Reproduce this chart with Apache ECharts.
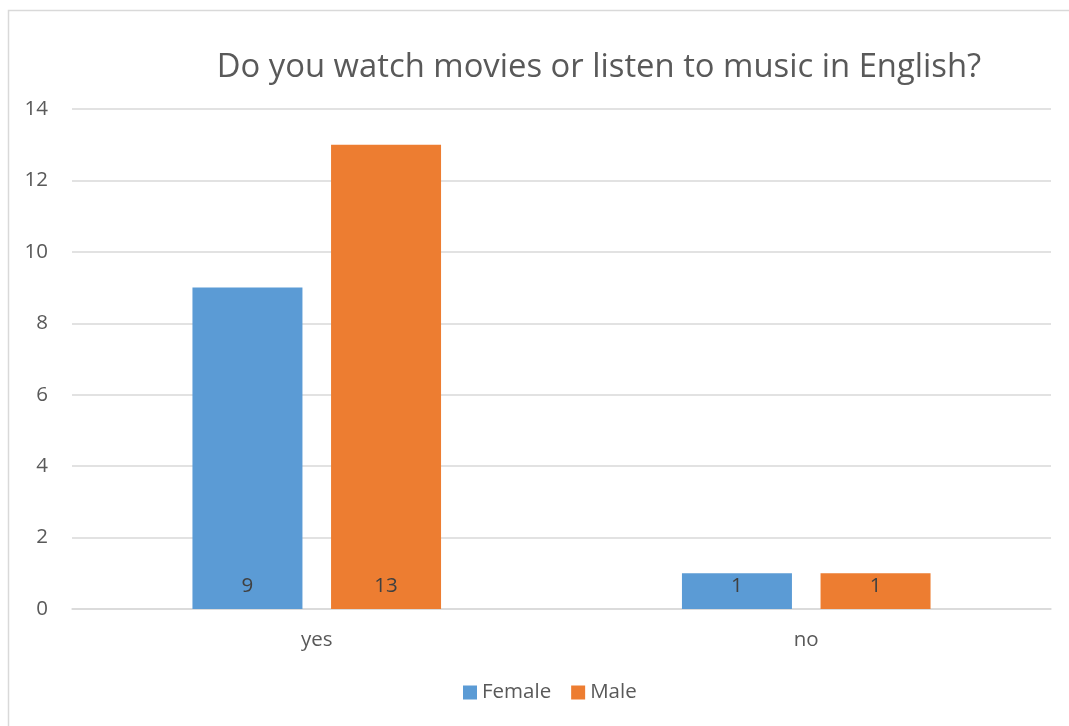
<!DOCTYPE html>
<html><head><meta charset="utf-8">
<script src="https://cdn.jsdelivr.net/npm/echarts@6/dist/echarts.min.js"></script>
<style>html,body{margin:0;padding:0;background:#fff}#c{width:1069px;height:726px}</style>
</head><body><div id="c"></div>
<script>
var titleText = 'Do you watch movies or listen to music in English?';
var categories = ['yes', 'no'];
var seriesNames = ['Female', 'Male'];
var femaleValues = [9, 1];
var maleValues = [13, 1];
var yTicks = [0, 2, 4, 6, 8, 10, 12, 14];

var font = "'Open Sans', 'Noto Sans', sans-serif";
var chart = echarts.init(document.getElementById('c'));
chart.setOption({
  animation: false,
  backgroundColor: '#fff',
  textStyle: { fontFamily: font },
  title: {
    text: titleText,
    left: 594, top: 46, textAlign: 'center',
    textStyle: { fontSize: 32.8, fontWeight: 'normal', color: '#595959', fontFamily: font }
  },
  graphic: [{
    type: 'rect', shape: { x: 8.5, y: 10.5, width: 1080, height: 740 },
    style: { fill: 'none', stroke: '#d9d9d9', lineWidth: 1.5 }, silent: true
  }],
  legend: {
    data: seriesNames, bottom: 18, left: 458,
    icon: 'rect', itemWidth: 14, itemHeight: 14, itemGap: 20, itemStyle: { borderWidth: 0 },
    textStyle: { fontSize: 20.5, color: '#595959', fontFamily: font }
  },
  grid: { left: 72, right: 18, top: 109, bottom: 117 },
  xAxis: {
    type: 'category', data: categories,
    axisLine: { lineStyle: { color: '#d9d9d9', width: 1.5 } },
    axisTick: { show: false },
    axisLabel: { fontSize: 20.5, color: '#595959', margin: 21, fontFamily: font }
  },
  yAxis: {
    type: 'value', min: yTicks[0], max: yTicks[yTicks.length - 1], interval: 2,
    axisLine: { show: false }, axisTick: { show: false },
    axisLabel: { fontSize: 20.5, color: '#595959', margin: 24, fontFamily: font },
    splitLine: { lineStyle: { color: '#d9d9d9', width: 1.5 } }
  },
  series: [
    { name: seriesNames[0], type: 'bar', data: femaleValues, barWidth: 110, barGap: '26%',
      itemStyle: { color: '#5B9BD5' },
      label: { show: true, position: 'insideBottom', distance: 12, fontSize: 20.5, color: '#404040', fontFamily: font } },
    { name: seriesNames[1], type: 'bar', data: maleValues, barWidth: 110, barGap: '26%',
      itemStyle: { color: '#ED7D31' },
      label: { show: true, position: 'insideBottom', distance: 12, fontSize: 20.5, color: '#404040', fontFamily: font } }
  ]
});
</script></body></html>
